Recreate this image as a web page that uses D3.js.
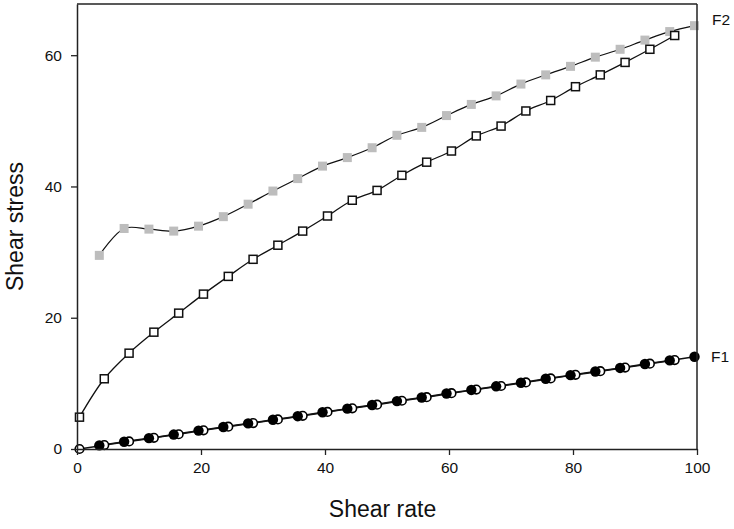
<!DOCTYPE html>
<html>
<head>
<meta charset="utf-8">
<script src="https://cdn.jsdelivr.net/npm/d3@7/dist/d3.min.js"></script>
<style>
  html, body { margin: 0; padding: 0; background: #fff; }
  svg { display: block; font-family: "Liberation Sans", Arial, sans-serif; }
</style>
</head>
<body>
<svg id="chart" width="734" height="529"></svg>
<script>
// ---- Data ----
const xFilled = [3.6, 7.6, 11.6, 15.6, 19.6, 23.6, 27.6, 31.6, 35.6, 39.6, 43.6, 47.6, 51.6, 55.6, 59.6, 63.6, 67.6, 71.6, 75.6, 79.6, 83.6, 87.6, 91.6, 95.6, 99.6];
const xOpen   = [0.4, 4.4, 8.4, 12.4, 16.4, 20.4, 24.4, 28.4, 32.4, 36.4, 40.4, 44.4, 48.4, 52.4, 56.4, 60.4, 64.4, 68.4, 72.4, 76.4, 80.4, 84.4, 88.4, 92.4, 96.4];

// F2, filled grey squares
const f2Filled = [29.5, 33.6, 33.5, 33.2, 33.95, 35.4, 37.3, 39.3, 41.2, 43.1, 44.4, 45.9, 47.8, 49.0, 50.8, 52.5, 53.8, 55.6, 57.0, 58.3, 59.7, 60.9, 62.3, 63.6, 64.5];
// F2, open squares
const f2Open = [4.85, 10.7, 14.6, 17.8, 20.7, 23.6, 26.3, 28.9, 31.05, 33.2, 35.5, 37.9, 39.4, 41.7, 43.7, 45.4, 47.7, 49.2, 51.5, 53.1, 55.2, 57.0, 58.9, 60.9, 63.0];
// F1, filled black circles
const f1Filled = [0.55, 1.1, 1.65, 2.2, 2.8, 3.35, 3.9, 4.45, 5.0, 5.6, 6.15, 6.7, 7.3, 7.85, 8.45, 9.0, 9.55, 10.1, 10.7, 11.25, 11.8, 12.35, 12.95, 13.5, 14.05];
// F1, open circles
const f1Open = [0, 0.6, 1.15, 1.7, 2.25, 2.85, 3.4, 3.95, 4.5, 5.05, 5.65, 6.2, 6.75, 7.35, 7.9, 8.5, 9.05, 9.6, 10.15, 10.75, 11.3, 11.85, 12.4, 13.0, 13.55];

const xTicks = [0, 20, 40, 60, 80, 100];
const yTicks = [0, 20, 40, 60];
const seriesLabels = ["F2", "F1"];
const xTitle = "Shear rate";
const yTitle = "Shear stress";

// ---- Layout ----
const svg = d3.select("#chart");
const L = 77, R = 697, T = 4, B = 449;
const x = d3.scaleLinear().domain([0, 100]).range([L, R]);
const y = d3.scaleLinear().domain([0, 67.8]).range([B, T]);

const axisColor = "#222";
const font = '"Liberation Sans", Arial, sans-serif';

// Lines
const zip = (xs, ys) => xs.map((d, i) => [d, ys[i]]);
const line = d3.line().x(d => x(d[0])).y(d => y(d[1])).curve(d3.curveCatmullRom.alpha(0.5));

const g = svg.append("g");
[[xFilled, f2Filled, 1.2], [xOpen, f2Open, 1.3], [xOpen, f1Open, 1.5], [xFilled, f1Filled, 1.5]].forEach(([xs, ys, w]) => {
  g.append("path")
    .datum(zip(xs, ys))
    .attr("d", line)
    .attr("fill", "none")
    .attr("stroke", "#111")
    .attr("stroke-width", w);
});

// Markers
const S = 9;
g.selectAll("rect.gs").data(zip(xFilled, f2Filled)).join("rect")
  .attr("class", "gs")
  .attr("x", d => x(d[0]) - S / 2).attr("y", d => y(d[1]) - S / 2)
  .attr("width", S).attr("height", S)
  .attr("fill", "#bdbdbd");

g.selectAll("rect.os").data(zip(xOpen, f2Open)).join("rect")
  .attr("class", "os")
  .attr("x", d => x(d[0]) - 4).attr("y", d => y(d[1]) - 4)
  .attr("width", 8).attr("height", 8)
  .attr("fill", "#fff").attr("stroke", "#111").attr("stroke-width", 1.5);

g.selectAll("circle.oc").data(zip(xOpen, f1Open)).join("circle")
  .attr("class", "oc")
  .attr("cx", d => x(d[0])).attr("cy", d => y(d[1])).attr("r", 4.3)
  .attr("fill", "#fff").attr("stroke", "#000").attr("stroke-width", 1.6);

g.selectAll("circle.fc").data(zip(xFilled, f1Filled)).join("circle")
  .attr("class", "fc")
  .attr("cx", d => x(d[0])).attr("cy", d => y(d[1])).attr("r", 5.2)
  .attr("fill", "#000");

// Frame (top and right)
svg.append("line").attr("x1", L).attr("x2", R).attr("y1", T).attr("y2", T)
  .attr("stroke", axisColor).attr("stroke-width", 1.5);
svg.append("line").attr("x1", R).attr("x2", R).attr("y1", T).attr("y2", B)
  .attr("stroke", axisColor).attr("stroke-width", 1.5);

// Axes
const xAxis = d3.axisBottom(x).tickValues(xTicks).tickSize(6).tickPadding(7).tickSizeOuter(0);
const yAxis = d3.axisLeft(y).tickValues(yTicks).tickSize(6).tickPadding(9).tickSizeOuter(0);

const gx = svg.append("g").attr("transform", `translate(0,${B})`).call(xAxis);
const gy = svg.append("g").attr("transform", `translate(${L},0)`).call(yAxis);
[gx, gy].forEach(a => {
  a.select(".domain").attr("stroke", axisColor).attr("stroke-width", 1.5);
  a.selectAll(".tick line").attr("stroke", axisColor).attr("stroke-width", 1.3);
  a.selectAll(".tick text").attr("fill", "#111").style("font-size", "15.5px")
    .style("font-family", font);
});

// Axis titles
svg.append("text").attr("x", 382.5).attr("y", 517).attr("text-anchor", "middle")
  .attr("fill", "#111").style("font-size", "23px").style("font-family", font).text(xTitle);
svg.append("text").attr("transform", "translate(23,226.5) rotate(-90)").attr("text-anchor", "middle")
  .attr("fill", "#111").style("font-size", "23px").style("font-family", font).text(yTitle);

// Series labels
svg.append("text").attr("x", 712).attr("y", 25).attr("fill", "#111")
  .style("font-size", "15.5px").style("font-family", font).text(seriesLabels[0]);
svg.append("text").attr("x", 711).attr("y", 362).attr("fill", "#111")
  .style("font-size", "15.5px").style("font-family", font).text(seriesLabels[1]);
</script>
</body>
</html>
